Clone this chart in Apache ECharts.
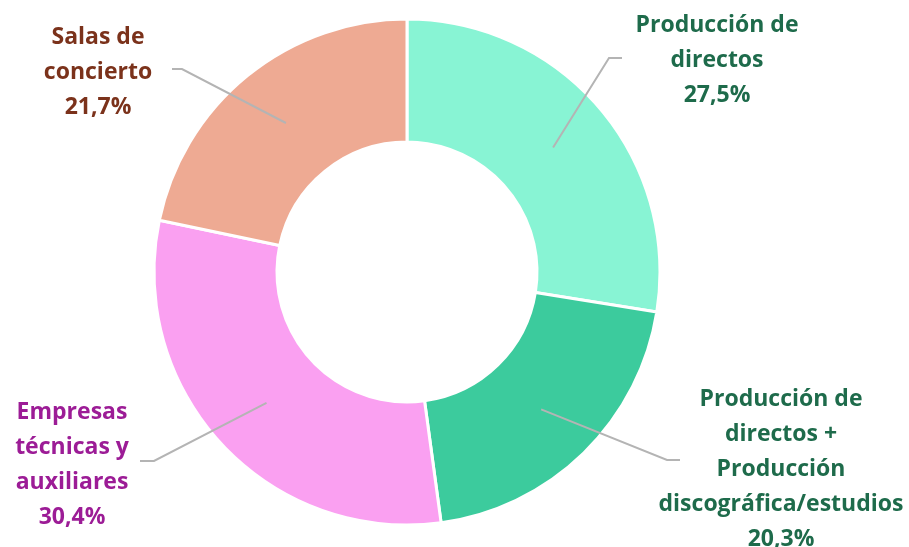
<!DOCTYPE html>
<html><head><meta charset="utf-8">
<script src="https://cdn.jsdelivr.net/npm/echarts@6/dist/echarts.min.js"></script>
<style>html,body{margin:0;padding:0;background:#fff}#c{width:909px;height:547px}</style>
</head><body><div id="c"></div>
<script>
const categories = [
  'Producción de\ndirectos',
  'Producción de\ndirectos +\nProducción\ndiscográfica/estudios',
  'Empresas\ntécnicas y\nauxiliares',
  'Salas de\nconcierto'
];
const values = [27.5, 20.3, 30.4, 21.7];
const sliceColors = ['#88F4D4', '#3CCB9D', '#FAA0F1', '#EEAA93'];
const labelColors = ['#1E6B4B', '#1E6B4B', '#9C1C96', '#7B321B'];
// label block centres, leader-line end offset and y (layout only)
const labelPos = [
  {x: 717, y: 60, endDx: -95, elbowDx: -13, lineY: 58},
  {x: 781, y: 469, endDx: -101, elbowDx: -13, lineY: 460},
  {x: 72, y: 465, endDx: 68, elbowDx: 14, lineY: 461},
  {x: 98, y: 72, endDx: 74, elbowDx: 10, lineY: 69}
];
const C = [407, 272];

const chart = echarts.init(document.getElementById('c'), null, {renderer: 'canvas'});
const data = categories.map((n, i) => ({name: n, value: values[i], itemStyle: {color: sliceColors[i]}}));
const labelData = categories.map((n, i) => ({
  name: n, value: values[i],
  label: {color: labelColors[i]}
}));

chart.setOption({
  animation: false,
  series: [
    {
      type: 'pie', center: C, radius: [130, 253], startAngle: 90, clockwise: true,
      silent: true,
      itemStyle: {borderColor: '#fff', borderWidth: 3},
      label: {show: false}, labelLine: {show: false},
      data: data
    },
    {
      type: 'pie', center: C, radius: [0, 192], startAngle: 90, clockwise: true,
      silent: true, z: 5,
      itemStyle: {color: 'rgba(0,0,0,0)', borderWidth: 0},
      label: {
        show: true, position: 'outside',
        fontFamily: 'Open Sans', fontWeight: 'bold', fontSize: 23, lineHeight: 35,
        align: 'center',
        formatter: p => p.name + '\n' + p.value.toFixed(1).replace('.', ',') + '%'
      },
      labelLine: {show: true, lineStyle: {color: '#B4B4B4', width: 2}},
      labelLayout: function (params) {
        const lp = labelPos[params.dataIndex];
        const start = params.labelLinePoints ? params.labelLinePoints[0] : [0, 0];
        const endX = lp.x + lp.endDx;
        const elbowX = endX + lp.elbowDx;
        return {
          x: lp.x, y: lp.y, align: 'center', verticalAlign: 'middle',
          labelLinePoints: [start, [elbowX, lp.lineY], [endX, lp.lineY]]
        };
      },
      data: labelData
    }
  ]
});
</script></body></html>
